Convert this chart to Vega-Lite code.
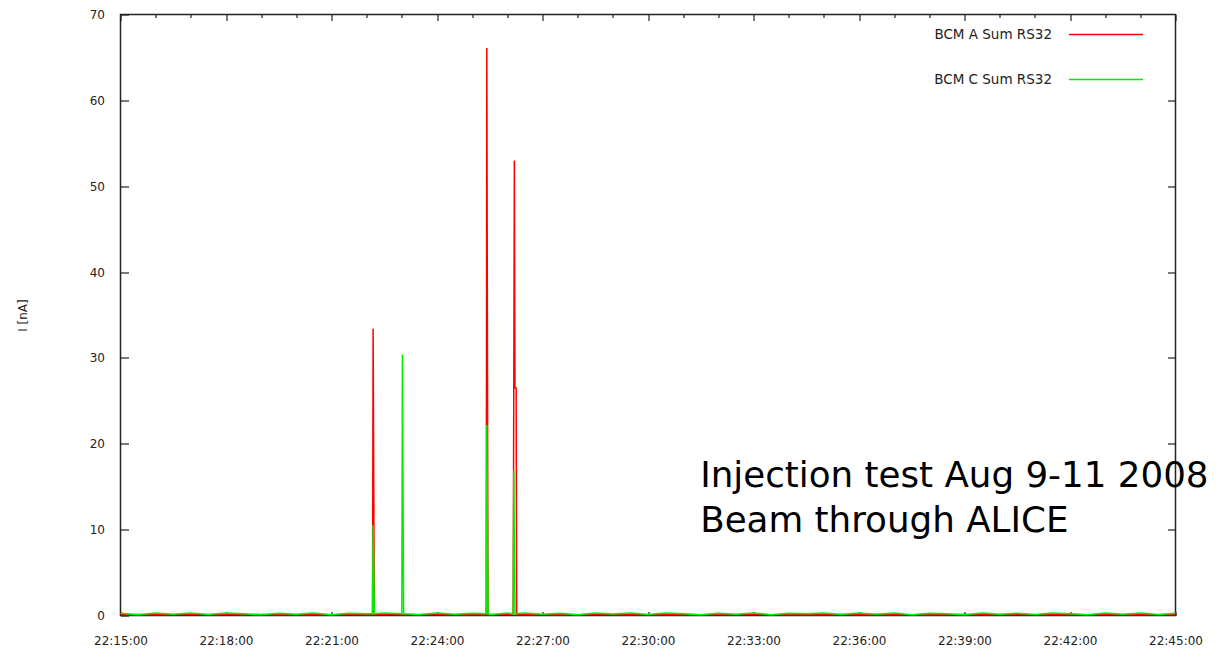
{
  "$schema": "https://vega.github.io/schema/vega-lite/v6.json",
  "width": 1055,
  "height": 601,
  "autosize": {"type": "none"},
  "padding": {"left": 120.5, "top": 14.5, "right": 45.5, "bottom": 35.5},
  "background": "white",
  "config": {
    "view": {"stroke": "#222", "strokeWidth": 1.5},
    "font": "DejaVu Sans",
    "axis": {"domain": false, "grid": false, "labelFont": "DejaVu Sans", "labelFontSize": 12, "labelColor": "#222", "tickColor": "#222", "tickWidth": 1.2, "titleFont": "DejaVu Sans", "titleFontSize": 12, "titleFontWeight": "normal", "titleColor": "#222"},
    "legend": {"labelFont": "DejaVu Sans", "labelFontSize": 12, "labelColor": "#222"}
  },
  "datasets": {
    "note": [
      {"sec_after_2215": 989, "v": 15.0, "label": "Injection test Aug 9-11 2008"},
      {"sec_after_2215": 989, "v": 9.75, "label": "Beam through ALICE"}
    ],
    "bcm": [
      {"sec_after_2215": 0, "s": "BCM A Sum RS32", "v": 0.1},
      {"sec_after_2215": 30, "s": "BCM A Sum RS32", "v": 0.12},
      {"sec_after_2215": 60, "s": "BCM A Sum RS32", "v": 0.08},
      {"sec_after_2215": 90, "s": "BCM A Sum RS32", "v": 0.1},
      {"sec_after_2215": 120, "s": "BCM A Sum RS32", "v": 0.14},
      {"sec_after_2215": 150, "s": "BCM A Sum RS32", "v": 0.09},
      {"sec_after_2215": 180, "s": "BCM A Sum RS32", "v": 0.11},
      {"sec_after_2215": 210, "s": "BCM A Sum RS32", "v": 0.1},
      {"sec_after_2215": 240, "s": "BCM A Sum RS32", "v": 0.13},
      {"sec_after_2215": 270, "s": "BCM A Sum RS32", "v": 0.08},
      {"sec_after_2215": 300, "s": "BCM A Sum RS32", "v": 0.1},
      {"sec_after_2215": 330, "s": "BCM A Sum RS32", "v": 0.12},
      {"sec_after_2215": 360, "s": "BCM A Sum RS32", "v": 0.09},
      {"sec_after_2215": 390, "s": "BCM A Sum RS32", "v": 0.11},
      {"sec_after_2215": 420, "s": "BCM A Sum RS32", "v": 0.1},
      {"sec_after_2215": 430, "s": "BCM A Sum RS32", "v": 0.1},
      {"sec_after_2215": 431, "s": "BCM A Sum RS32", "v": 33.4},
      {"sec_after_2215": 432, "s": "BCM A Sum RS32", "v": 16.7},
      {"sec_after_2215": 433, "s": "BCM A Sum RS32", "v": 0.1},
      {"sec_after_2215": 450, "s": "BCM A Sum RS32", "v": 0.14},
      {"sec_after_2215": 480, "s": "BCM A Sum RS32", "v": 0.08},
      {"sec_after_2215": 510, "s": "BCM A Sum RS32", "v": 0.1},
      {"sec_after_2215": 540, "s": "BCM A Sum RS32", "v": 0.12},
      {"sec_after_2215": 570, "s": "BCM A Sum RS32", "v": 0.1},
      {"sec_after_2215": 600, "s": "BCM A Sum RS32", "v": 0.09},
      {"sec_after_2215": 624, "s": "BCM A Sum RS32", "v": 0.1},
      {"sec_after_2215": 625, "s": "BCM A Sum RS32", "v": 66.1},
      {"sec_after_2215": 626, "s": "BCM A Sum RS32", "v": 33.0},
      {"sec_after_2215": 627, "s": "BCM A Sum RS32", "v": 0.1},
      {"sec_after_2215": 630, "s": "BCM A Sum RS32", "v": 0.11},
      {"sec_after_2215": 660, "s": "BCM A Sum RS32", "v": 0.13},
      {"sec_after_2215": 670, "s": "BCM A Sum RS32", "v": 0.1},
      {"sec_after_2215": 671, "s": "BCM A Sum RS32", "v": 26.5},
      {"sec_after_2215": 672, "s": "BCM A Sum RS32", "v": 53.0},
      {"sec_after_2215": 673, "s": "BCM A Sum RS32", "v": 26.5},
      {"sec_after_2215": 675, "s": "BCM A Sum RS32", "v": 26.5},
      {"sec_after_2215": 676, "s": "BCM A Sum RS32", "v": 0.1},
      {"sec_after_2215": 690, "s": "BCM A Sum RS32", "v": 0.1},
      {"sec_after_2215": 720, "s": "BCM A Sum RS32", "v": 0.08},
      {"sec_after_2215": 750, "s": "BCM A Sum RS32", "v": 0.12},
      {"sec_after_2215": 780, "s": "BCM A Sum RS32", "v": 0.1},
      {"sec_after_2215": 810, "s": "BCM A Sum RS32", "v": 0.11},
      {"sec_after_2215": 840, "s": "BCM A Sum RS32", "v": 0.09},
      {"sec_after_2215": 870, "s": "BCM A Sum RS32", "v": 0.13},
      {"sec_after_2215": 900, "s": "BCM A Sum RS32", "v": 0.1},
      {"sec_after_2215": 930, "s": "BCM A Sum RS32", "v": 0.08},
      {"sec_after_2215": 960, "s": "BCM A Sum RS32", "v": 0.12},
      {"sec_after_2215": 990, "s": "BCM A Sum RS32", "v": 0.1},
      {"sec_after_2215": 1020, "s": "BCM A Sum RS32", "v": 0.11},
      {"sec_after_2215": 1050, "s": "BCM A Sum RS32", "v": 0.09},
      {"sec_after_2215": 1080, "s": "BCM A Sum RS32", "v": 0.14},
      {"sec_after_2215": 1110, "s": "BCM A Sum RS32", "v": 0.1},
      {"sec_after_2215": 1140, "s": "BCM A Sum RS32", "v": 0.08},
      {"sec_after_2215": 1170, "s": "BCM A Sum RS32", "v": 0.12},
      {"sec_after_2215": 1200, "s": "BCM A Sum RS32", "v": 0.1},
      {"sec_after_2215": 1230, "s": "BCM A Sum RS32", "v": 0.11},
      {"sec_after_2215": 1260, "s": "BCM A Sum RS32", "v": 0.09},
      {"sec_after_2215": 1290, "s": "BCM A Sum RS32", "v": 0.13},
      {"sec_after_2215": 1320, "s": "BCM A Sum RS32", "v": 0.1},
      {"sec_after_2215": 1350, "s": "BCM A Sum RS32", "v": 0.08},
      {"sec_after_2215": 1380, "s": "BCM A Sum RS32", "v": 0.12},
      {"sec_after_2215": 1410, "s": "BCM A Sum RS32", "v": 0.1},
      {"sec_after_2215": 1440, "s": "BCM A Sum RS32", "v": 0.11},
      {"sec_after_2215": 1470, "s": "BCM A Sum RS32", "v": 0.09},
      {"sec_after_2215": 1500, "s": "BCM A Sum RS32", "v": 0.1},
      {"sec_after_2215": 1530, "s": "BCM A Sum RS32", "v": 0.12},
      {"sec_after_2215": 1560, "s": "BCM A Sum RS32", "v": 0.08},
      {"sec_after_2215": 1590, "s": "BCM A Sum RS32", "v": 0.1},
      {"sec_after_2215": 1620, "s": "BCM A Sum RS32", "v": 0.13},
      {"sec_after_2215": 1650, "s": "BCM A Sum RS32", "v": 0.09},
      {"sec_after_2215": 1680, "s": "BCM A Sum RS32", "v": 0.11},
      {"sec_after_2215": 1710, "s": "BCM A Sum RS32", "v": 0.1},
      {"sec_after_2215": 1740, "s": "BCM A Sum RS32", "v": 0.12},
      {"sec_after_2215": 1770, "s": "BCM A Sum RS32", "v": 0.08},
      {"sec_after_2215": 1800, "s": "BCM A Sum RS32", "v": 0.1},
      {"sec_after_2215": 0, "s": "BCM C Sum RS32", "v": 0.25},
      {"sec_after_2215": 30, "s": "BCM C Sum RS32", "v": 0.1},
      {"sec_after_2215": 60, "s": "BCM C Sum RS32", "v": 0.3},
      {"sec_after_2215": 90, "s": "BCM C Sum RS32", "v": 0.15},
      {"sec_after_2215": 120, "s": "BCM C Sum RS32", "v": 0.28},
      {"sec_after_2215": 150, "s": "BCM C Sum RS32", "v": 0.12},
      {"sec_after_2215": 180, "s": "BCM C Sum RS32", "v": 0.3},
      {"sec_after_2215": 210, "s": "BCM C Sum RS32", "v": 0.2},
      {"sec_after_2215": 240, "s": "BCM C Sum RS32", "v": 0.08},
      {"sec_after_2215": 270, "s": "BCM C Sum RS32", "v": 0.27},
      {"sec_after_2215": 300, "s": "BCM C Sum RS32", "v": 0.15},
      {"sec_after_2215": 330, "s": "BCM C Sum RS32", "v": 0.3},
      {"sec_after_2215": 360, "s": "BCM C Sum RS32", "v": 0.1},
      {"sec_after_2215": 390, "s": "BCM C Sum RS32", "v": 0.25},
      {"sec_after_2215": 420, "s": "BCM C Sum RS32", "v": 0.2},
      {"sec_after_2215": 430, "s": "BCM C Sum RS32", "v": 0.2},
      {"sec_after_2215": 431, "s": "BCM C Sum RS32", "v": 10.5},
      {"sec_after_2215": 432, "s": "BCM C Sum RS32", "v": 5.3},
      {"sec_after_2215": 433, "s": "BCM C Sum RS32", "v": 0.2},
      {"sec_after_2215": 450, "s": "BCM C Sum RS32", "v": 0.28},
      {"sec_after_2215": 480, "s": "BCM C Sum RS32", "v": 0.2},
      {"sec_after_2215": 481, "s": "BCM C Sum RS32", "v": 30.4},
      {"sec_after_2215": 482, "s": "BCM C Sum RS32", "v": 15.2},
      {"sec_after_2215": 483, "s": "BCM C Sum RS32", "v": 0.2},
      {"sec_after_2215": 510, "s": "BCM C Sum RS32", "v": 0.12},
      {"sec_after_2215": 540, "s": "BCM C Sum RS32", "v": 0.3},
      {"sec_after_2215": 570, "s": "BCM C Sum RS32", "v": 0.15},
      {"sec_after_2215": 600, "s": "BCM C Sum RS32", "v": 0.25},
      {"sec_after_2215": 624, "s": "BCM C Sum RS32", "v": 0.2},
      {"sec_after_2215": 625, "s": "BCM C Sum RS32", "v": 22.2},
      {"sec_after_2215": 626, "s": "BCM C Sum RS32", "v": 11.1},
      {"sec_after_2215": 627, "s": "BCM C Sum RS32", "v": 0.2},
      {"sec_after_2215": 630, "s": "BCM C Sum RS32", "v": 0.1},
      {"sec_after_2215": 660, "s": "BCM C Sum RS32", "v": 0.28},
      {"sec_after_2215": 670, "s": "BCM C Sum RS32", "v": 0.2},
      {"sec_after_2215": 671, "s": "BCM C Sum RS32", "v": 16.9},
      {"sec_after_2215": 672, "s": "BCM C Sum RS32", "v": 8.5},
      {"sec_after_2215": 673, "s": "BCM C Sum RS32", "v": 0.2},
      {"sec_after_2215": 690, "s": "BCM C Sum RS32", "v": 0.3},
      {"sec_after_2215": 720, "s": "BCM C Sum RS32", "v": 0.15},
      {"sec_after_2215": 750, "s": "BCM C Sum RS32", "v": 0.27},
      {"sec_after_2215": 780, "s": "BCM C Sum RS32", "v": 0.1},
      {"sec_after_2215": 810, "s": "BCM C Sum RS32", "v": 0.3},
      {"sec_after_2215": 840, "s": "BCM C Sum RS32", "v": 0.18},
      {"sec_after_2215": 870, "s": "BCM C Sum RS32", "v": 0.28},
      {"sec_after_2215": 900, "s": "BCM C Sum RS32", "v": 0.12},
      {"sec_after_2215": 930, "s": "BCM C Sum RS32", "v": 0.3},
      {"sec_after_2215": 960, "s": "BCM C Sum RS32", "v": 0.2},
      {"sec_after_2215": 990, "s": "BCM C Sum RS32", "v": 0.08},
      {"sec_after_2215": 1020, "s": "BCM C Sum RS32", "v": 0.27},
      {"sec_after_2215": 1050, "s": "BCM C Sum RS32", "v": 0.15},
      {"sec_after_2215": 1080, "s": "BCM C Sum RS32", "v": 0.3},
      {"sec_after_2215": 1110, "s": "BCM C Sum RS32", "v": 0.1},
      {"sec_after_2215": 1140, "s": "BCM C Sum RS32", "v": 0.25},
      {"sec_after_2215": 1170, "s": "BCM C Sum RS32", "v": 0.2},
      {"sec_after_2215": 1200, "s": "BCM C Sum RS32", "v": 0.3},
      {"sec_after_2215": 1230, "s": "BCM C Sum RS32", "v": 0.12},
      {"sec_after_2215": 1260, "s": "BCM C Sum RS32", "v": 0.28},
      {"sec_after_2215": 1290, "s": "BCM C Sum RS32", "v": 0.15},
      {"sec_after_2215": 1320, "s": "BCM C Sum RS32", "v": 0.3},
      {"sec_after_2215": 1350, "s": "BCM C Sum RS32", "v": 0.1},
      {"sec_after_2215": 1380, "s": "BCM C Sum RS32", "v": 0.25},
      {"sec_after_2215": 1410, "s": "BCM C Sum RS32", "v": 0.2},
      {"sec_after_2215": 1440, "s": "BCM C Sum RS32", "v": 0.08},
      {"sec_after_2215": 1470, "s": "BCM C Sum RS32", "v": 0.3},
      {"sec_after_2215": 1500, "s": "BCM C Sum RS32", "v": 0.15},
      {"sec_after_2215": 1530, "s": "BCM C Sum RS32", "v": 0.27},
      {"sec_after_2215": 1560, "s": "BCM C Sum RS32", "v": 0.12},
      {"sec_after_2215": 1590, "s": "BCM C Sum RS32", "v": 0.3},
      {"sec_after_2215": 1620, "s": "BCM C Sum RS32", "v": 0.2},
      {"sec_after_2215": 1650, "s": "BCM C Sum RS32", "v": 0.1},
      {"sec_after_2215": 1680, "s": "BCM C Sum RS32", "v": 0.28},
      {"sec_after_2215": 1710, "s": "BCM C Sum RS32", "v": 0.15},
      {"sec_after_2215": 1740, "s": "BCM C Sum RS32", "v": 0.3},
      {"sec_after_2215": 1770, "s": "BCM C Sum RS32", "v": 0.12},
      {"sec_after_2215": 1800, "s": "BCM C Sum RS32", "v": 0.25}
    ]
  },
  "layer": [
    {
      "data": {"name": "bcm"},
      "mark": {"type": "line", "strokeWidth": 1.5},
      "encoding": {
        "x": {
          "field": "sec_after_2215", "type": "quantitative",
          "scale": {"domain": [0, 1800], "nice": false, "zero": false},
          "axis": {"orient": "bottom", "title": null, "values": [0, 180, 360, 540, 720, 900, 1080, 1260, 1440, 1620, 1800], "labelExpr": "'22:' + (15 + datum.value / 60) + ':00'", "tickSize": -4, "labelPadding": 24, "labelFlush": false, "labelOverlap": false}
        },
        "y": {
          "field": "v", "type": "quantitative",
          "scale": {"domain": [0, 70], "nice": false, "zero": false},
          "axis": {"orient": "left", "title": "I [nA]", "values": [0, 10, 20, 30, 40, 50, 60, 70], "tickSize": -8, "labelPadding": 24, "titleX": -94, "titleY": 300.5, "titleAngle": -90, "titleAlign": "center", "titleBaseline": "alphabetic"}
        },
        "color": {
          "field": "s", "type": "nominal",
          "scale": {"domain": ["BCM A Sum RS32", "BCM C Sum RS32"], "range": ["#ff0000", "#00ee00"]},
          "legend": {"title": null, "orient": "none", "legendX": 947.5, "legendY": -18, "symbolType": "stroke", "symbolSize": 5476, "symbolStrokeWidth": 1.5, "labelAlign": "right", "labelOffset": -92, "rowPadding": -35, "labelFont": "DejaVu Sans", "labelFontSize": 13.5, "labelColor": "#222"}
        }
      }
    },
    {
      "data": {"name": "note"},
      "mark": {"type": "text", "align": "left", "baseline": "alphabetic", "fontSize": 35.7, "font": "DejaVu Sans", "color": "#000"},
      "encoding": {
        "x": {
          "field": "sec_after_2215", "type": "quantitative",
          "axis": {"orient": "top", "title": null, "labels": false, "values": [0, 60, 120, 180, 240, 300, 360, 420, 480, 540, 600, 660, 720, 780, 840, 900, 960, 1020, 1080, 1140, 1200, 1260, 1320, 1380, 1440, 1500, 1560, 1620, 1680, 1740, 1800], "tickSize": {"condition": {"test": "datum.value % 180 === 0", "value": -6}, "value": -3}}
        },
        "y": {
          "field": "v", "type": "quantitative",
          "axis": {"orient": "right", "title": null, "labels": false, "values": [10, 20, 30, 40, 50, 60], "tickSize": -8}
        },
        "text": {"field": "label"}
      }
    }
  ],
  "resolve": {"axis": {"x": "independent", "y": "independent"}}
}
